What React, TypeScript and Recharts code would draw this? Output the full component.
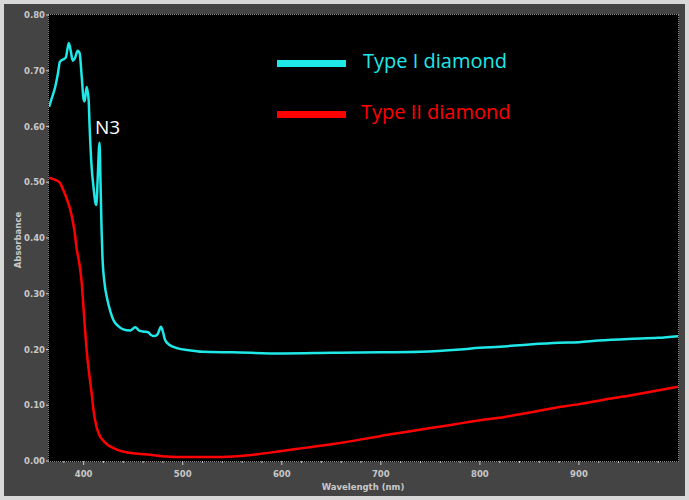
import { LineChart, Line, XAxis, YAxis } from 'recharts';

// Type I diamond (cyan)
const typeIWavelength = [
  365, 368, 371, 374, 376, 379, 382, 385, 387, 389, 391, 394, 396, 398, 400, 401, 403, 405, 406, 408,
  410, 412, 413, 414, 416, 417, 418, 419, 421, 424, 427, 430, 435, 440, 447, 452, 456, 461, 465, 468,
  471, 474, 476, 478, 480, 482, 486, 490, 495, 505, 520, 550, 600, 650, 700, 740, 780, 800, 820, 850,
  880, 900, 920, 950, 980, 1000,
];
const typeIAbsorbance = [
  0.635, 0.652, 0.669, 0.695, 0.716, 0.72, 0.724, 0.75, 0.735, 0.718, 0.722, 0.736, 0.731, 0.69, 0.648,
  0.645, 0.671, 0.648, 0.6, 0.528, 0.49, 0.462, 0.459, 0.5, 0.571, 0.5, 0.42, 0.365, 0.32, 0.289, 0.268,
  0.253, 0.242, 0.236, 0.234, 0.24, 0.234, 0.232, 0.231, 0.226, 0.224, 0.226, 0.233, 0.241, 0.232, 0.218,
  0.209, 0.205, 0.202, 0.199, 0.196, 0.195, 0.193, 0.194, 0.195, 0.196, 0.2, 0.203, 0.205, 0.209, 0.212,
  0.213, 0.216, 0.219, 0.221, 0.224,
];

// Type II diamond (red)
const typeIIWavelength = [
  365, 370, 376, 379, 383, 386, 389, 391, 393, 396, 398, 400, 403, 406, 408, 410, 413, 416, 419, 424,
  430, 434, 442, 450, 467, 484, 500, 530, 550, 575, 600, 625, 650, 675, 700, 725, 750, 775, 800, 825,
  850, 875, 900, 925, 950, 975, 1000,
];
const typeIIAbsorbance = [
  0.508, 0.505, 0.499, 0.488, 0.47, 0.454, 0.43, 0.409, 0.38, 0.35, 0.32, 0.27, 0.199, 0.15, 0.122, 0.09,
  0.061, 0.046, 0.038, 0.029, 0.023, 0.02, 0.016, 0.014, 0.011, 0.008, 0.007, 0.007, 0.008, 0.012, 0.018,
  0.024, 0.03, 0.037, 0.045, 0.052, 0.059, 0.066, 0.073, 0.079, 0.087, 0.095, 0.102, 0.11, 0.117, 0.125,
  0.133,
];

const xMajorTicks = [400, 500, 600, 700, 800, 900];
const xAllTicks = [
  380, 400, 420, 440, 460, 480, 500, 520, 540, 560, 580, 600, 620, 640, 660, 680, 700, 720, 740, 760, 780,
  800, 820, 840, 860, 880, 900, 920, 940, 960, 980,
];
const yTicks = [0, 0.1, 0.2, 0.3, 0.4, 0.5, 0.6, 0.7, 0.8];

const typeIData = typeIWavelength.map((w, i) => ({ w, a: typeIAbsorbance[i] }));
const typeIIData = typeIIWavelength.map((w, i) => ({ w, a: typeIIAbsorbance[i] }));

const tickColor = '#c8c8c8';
const tickStyle = { fill: tickColor, fontSize: 8.5, fontFamily: 'DejaVu Sans', fontWeight: 'bold' as const };

const XTick = (props: any) => {
  const { x, y, payload } = props;
  const major = xMajorTicks.includes(payload.value);
  return (
    <g>
      <line x1={x} x2={x} y1={y} y2={y + (major ? 4 : 2)} stroke={tickColor} strokeWidth={1} />
      {major && (
        <text x={x} y={y + 16} textAnchor="middle" {...tickStyle}>
          {payload.value}
        </text>
      )}
    </g>
  );
};

const App = () => {
  return (
    <div
      style={{
        position: 'absolute',
        left: 0,
        top: 0,
        width: 689,
        height: 500,
        background: '#d8d8d8',
      }}
    >
      <div
        style={{
          position: 'absolute',
          left: 4,
          top: 4,
          width: 681,
          height: 492,
          background: '#444444',
        }}
      />
      <div
        style={{
          position: 'absolute',
          left: 48,
          top: 14,
          width: 631,
          height: 448,
          boxSizing: 'border-box',
          border: '1px dotted #8a8a8a',
          background: '#000000',
        }}
      />
      <div style={{ position: 'absolute', left: 0, top: 0 }}>
        <LineChart width={689} height={500} margin={{ top: 15, right: 11, bottom: 9, left: 9 }}>
          <XAxis
            type="number"
            dataKey="w"
            domain={[365, 1000]}
            ticks={xAllTicks}
            tick={<XTick />}
            tickSize={0}
            tickMargin={0}
            tickLine={false}
            axisLine={false}
            height={30}
            interval={0}
            allowDataOverflow
          />
          <YAxis
            type="number"
            domain={[0, 0.8]}
            ticks={yTicks}
            tickFormatter={(v: number) => v.toFixed(2)}
            tick={tickStyle}
            tickSize={3}
            tickMargin={1}
            tickLine={{ stroke: tickColor }}
            axisLine={false}
            width={40}
            interval={0}
            allowDataOverflow
          />
          <Line
            data={typeIIData}
            dataKey="a"
            type="monotone"
            stroke="#ff0000"
            strokeWidth={2.5}
            dot={false}
            isAnimationActive={false}
          />
          <Line
            data={typeIData}
            dataKey="a"
            type="monotone"
            stroke="#1ee8e8"
            strokeWidth={2.5}
            dot={false}
            isAnimationActive={false}
          />
        </LineChart>
      </div>

      {/* axis titles */}
      <div
        style={{
          position: 'absolute',
          left: 18,
          top: 240,
          transform: 'translate(-50%, -50%) rotate(-90deg)',
          color: tickColor,
          fontFamily: 'DejaVu Sans',
          fontSize: 8.5,
          fontWeight: 'bold',
          whiteSpace: 'nowrap',
        }}
      >
        Absorbance
      </div>
      <div
        style={{
          position: 'absolute',
          left: 363,
          top: 487,
          transform: 'translate(-50%, -50%)',
          color: tickColor,
          fontFamily: 'DejaVu Sans',
          fontSize: 8.5,
          fontWeight: 'bold',
          whiteSpace: 'nowrap',
        }}
      >
        Wavelength (nm)
      </div>

      {/* legend */}
      <div style={{ position: 'absolute', left: 277, top: 60, width: 69, height: 7, background: '#1ee8e8' }} />
      <div
        style={{
          position: 'absolute',
          left: 363,
          top: 49,
          color: '#1ee8e8',
          fontFamily: 'Open Sans',
          fontSize: 20,
          whiteSpace: 'nowrap',
          lineHeight: '24px',
        }}
      >
        Type I diamond
      </div>
      <div style={{ position: 'absolute', left: 277, top: 111, width: 69, height: 7, background: '#ff0000' }} />
      <div
        style={{
          position: 'absolute',
          left: 361,
          top: 100,
          color: '#ff0000',
          fontFamily: 'Open Sans',
          fontSize: 20,
          whiteSpace: 'nowrap',
          lineHeight: '24px',
        }}
      >
        Type II diamond
      </div>
      <div
        style={{
          position: 'absolute',
          left: 95,
          top: 115,
          color: '#ffffff',
          fontFamily: 'Open Sans',
          fontSize: 19,
          lineHeight: '24px',
        }}
      >
        N3
      </div>
    </div>
  );
};

export default App;
